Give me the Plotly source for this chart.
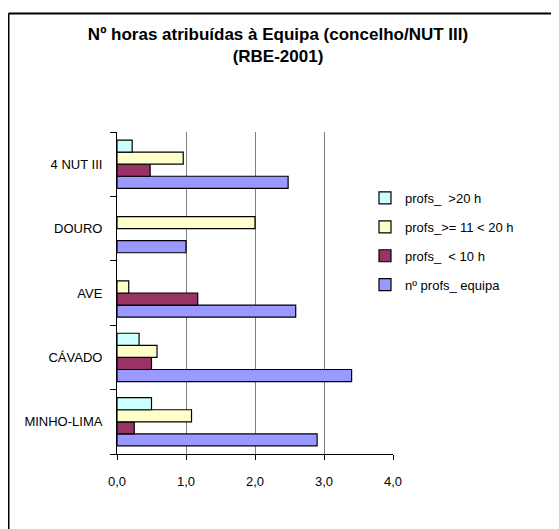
import plotly.graph_objects as go

categories = ["MINHO-LIMA", "CÁVADO", "AVE", "DOURO", "4 NUT III"]
equipa = [2.90, 3.40, 2.59, 1.00, 2.48]
menos10 = [0.25, 0.50, 1.17, None, 0.48]
entre11_20 = [1.08, 0.58, 0.17, 2.00, 0.96]
mais20 = [0.50, 0.32, None, None, 0.22]
x_tickvals = [0, 1, 2, 3, 4]
x_ticktext = ["0,0", "1,0", "2,0", "3,0", "4,0"]
series_names = ["nº profs_ equipa", "profs_  &lt; 10 h", "profs_&gt;= 11 &lt; 20 h", "profs_  &gt;20 h"]
series_colors = ["#9999FF", "#993366", "#FFFFCC", "#CCFFFF"]
series_values = [equipa, menos10, entre11_20, mais20]
legend_ranks = [4, 3, 2, 1]

FONT = "Liberation Sans, Arial, sans-serif"

# page body has an 8px margin, so figure coords = screen coords - 8
OFF = 8
W, H = 559, 529
ML, MT = 117 - OFF, 132 - OFF
MR, MB = W - (393 - OFF), H - (454 - OFF)
PW, PH = W - ML - MR, H - MT - MB

def px_x(p):
    return (p - OFF - ML) / PW

def px_y(p):
    return (H - MB - (p - OFF)) / PH

fig = go.Figure()
for i, (name, col, vals, rk) in enumerate(zip(series_names, series_colors, series_values, legend_ranks)):
    fig.add_trace(go.Bar(
        y=categories, x=vals, name=name, orientation="h",
        marker=dict(color=col, line=dict(color="#000000", width=1.2)),
        legendgroup=f"g{i}", legendrank=rk,
    ))

fig.update_layout(
    width=W, height=H,
    margin=dict(l=ML, r=MR, t=MT, b=MB, pad=0),
    paper_bgcolor="white", plot_bgcolor="white",
    font=dict(family=FONT, size=13, color="#000000"),
    barmode="group", bargap=0.25, bargroupgap=0,
    title=dict(
        text="<b>Nº horas atribuídas à Equipa (concelho/NUT III)<br>(RBE-2001)</b>",
        font=dict(family=FONT, size=17, color="#000000"),
        x=(278 - OFF) / W, xref="container", xanchor="center",
        y=1 - 32 / H, yref="container", yanchor="top",
    ),
    legend=dict(
        x=px_x(365), y=px_y(183), xanchor="left", yanchor="top",
        bgcolor="white", borderwidth=0, traceorder="grouped",
        tracegroupgap=9, font=dict(family=FONT, size=13),
    ),
    xaxis=dict(
        range=[0, 4], tickvals=x_tickvals, ticktext=x_ticktext,
        showgrid=True, gridcolor="#808080", gridwidth=1,
        showline=True, linecolor="#000000", linewidth=1,
        ticks="outside", ticklen=5, tickcolor="#000000",
        zeroline=False, ticklabelstandoff=10, fixedrange=True, automargin=False,
    ),
    yaxis=dict(
        type="category", categoryorder="array", categoryarray=categories,
        showgrid=False, showline=True, linecolor="#000000", linewidth=1,
        ticks="outside", ticklen=6, tickcolor="#000000", tickson="boundaries",
        ticklabelstandoff=11, fixedrange=True, automargin=False,
    ),
    shapes=[
        dict(type="line", xref="paper", yref="paper",
             x0=px_x(8.5), x1=px_x(W + 40), y0=px_y(13.5), y1=px_y(13.5),
             line=dict(color="#000000", width=2)),
        dict(type="line", xref="paper", yref="paper",
             x0=px_x(8.5), x1=px_x(8.5), y0=px_y(13.5), y1=px_y(H + 40),
             line=dict(color="#000000", width=2)),
    ],
)

fig.write_html("out.html")
